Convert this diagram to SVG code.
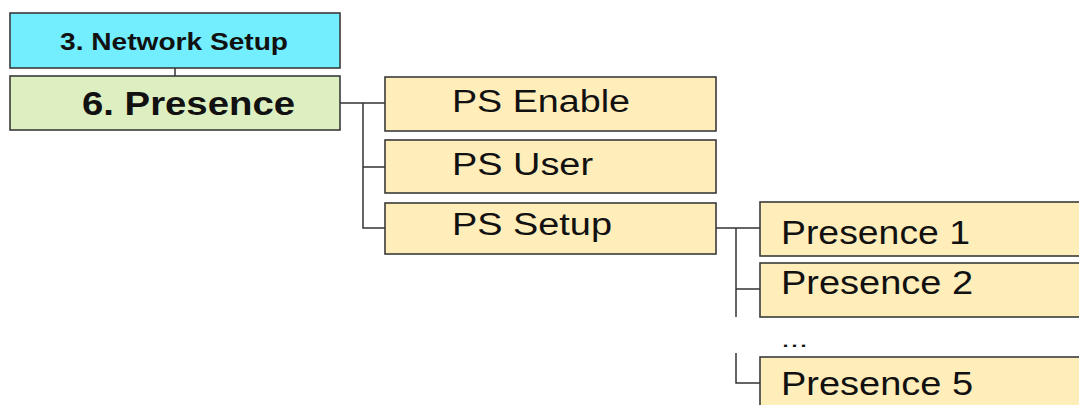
<svg xmlns="http://www.w3.org/2000/svg" width="1079" height="405" viewBox="0 0 1079 405">
<style>
.box{stroke:#3a3a3a;stroke-width:1.6}
.cyan{fill:#72EEFF}
.green{fill:#DDEFC0}
.yellow{fill:#FFEDBA}
.t{font-family:"Liberation Sans",Arial,sans-serif;fill:#111}
.b{font-weight:bold}
.c{fill:none;stroke:#333;stroke-width:1.5}
</style>
<rect width="1079" height="405" fill="#fff"/>
<g id="connectors">
<path class="c" d="M175,68 V76"/>
<path class="c" d="M340,103 H385 M363,103 V228 H385 M363,167 H385"/>
<path class="c" d="M716,228 H760 M736,228 V317 M736,289 H760 M736,353 V383 H760"/>
</g>
<g id="network-setup">
<rect class="box cyan" x="10" y="13" width="330" height="55"/>
<text class="t b" x="60" y="50" font-size="24" textLength="228" lengthAdjust="spacingAndGlyphs">3. Network Setup</text>
</g>
<g id="presence">
<rect class="box green" x="10" y="76" width="330" height="54"/>
<text class="t b" x="82" y="115" font-size="33" textLength="213" lengthAdjust="spacingAndGlyphs">6. Presence</text>
</g>
<g id="ps-enable">
<rect class="box yellow" x="385" y="77" width="331" height="54"/>
<text class="t" x="452" y="112" font-size="31" textLength="178" lengthAdjust="spacingAndGlyphs">PS Enable</text>
</g>
<g id="ps-user">
<rect class="box yellow" x="385" y="140" width="331" height="53"/>
<text class="t" x="452" y="175" font-size="31" textLength="141" lengthAdjust="spacingAndGlyphs">PS User</text>
</g>
<g id="ps-setup">
<rect class="box yellow" x="385" y="203" width="331" height="51"/>
<text class="t" x="452" y="235" font-size="31" textLength="160" lengthAdjust="spacingAndGlyphs">PS Setup</text>
</g>
<g id="presence-1">
<rect class="box yellow" x="760" y="202" width="340" height="54"/>
<text class="t" x="781" y="244" font-size="33" textLength="189" lengthAdjust="spacingAndGlyphs">Presence 1</text>
</g>
<g id="presence-2">
<rect class="box yellow" x="760" y="263" width="340" height="54"/>
<text class="t" x="781" y="294" font-size="33" textLength="192" lengthAdjust="spacingAndGlyphs">Presence 2</text>
</g>
<g id="ellipsis">
<text class="t" x="781" y="347" font-size="22" textLength="27" lengthAdjust="spacingAndGlyphs">...</text>
</g>
<g id="presence-5">
<rect class="box yellow" x="760" y="357" width="340" height="60"/>
<text class="t" x="781" y="395" font-size="33" textLength="192" lengthAdjust="spacingAndGlyphs">Presence 5</text>
</g>
</svg>
